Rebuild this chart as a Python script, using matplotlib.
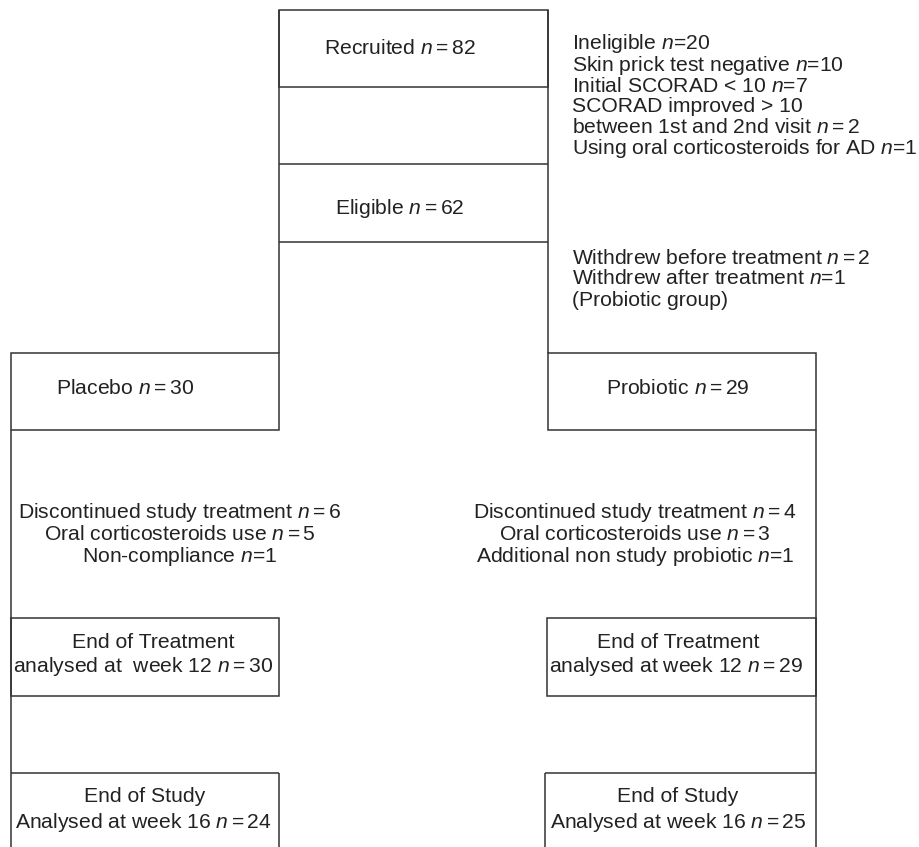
import matplotlib.pyplot as plt
from matplotlib.patches import Rectangle

plt.rcParams['font.family'] = ['Liberation Sans', 'DejaVu Sans']
plt.rcParams['mathtext.fontset'] = 'custom'
plt.rcParams['mathtext.rm'] = 'Liberation Sans'
plt.rcParams['mathtext.it'] = 'Liberation Sans:italic'

# flow counts
recruited = 82
eligible = 62
arms = ["Placebo", "Probiotic"]
arm_n = [30, 29]
week12_n = [30, 29]
week16_n = [24, 25]
discontinued_n = [6, 4]
steroid_n = [5, 3]
other_reason = ["Non-compliance", "Additional non study probiotic"]
other_n = [1, 1]

ineligible_lines = [
    "Ineligible $n$=20",
    "Skin prick test negative $n$=10",
    "Initial SCORAD < 10 $n$=7",
    "SCORAD improved > 10",
    "between 1st and 2nd visit $n=2$",
    "Using oral corticosteroids for AD $n$=1",
]
withdrew_lines = [
    "Withdrew before treatment $n=2$",
    "Withdrew after treatment $n$=1",
    "(Probiotic group)",
]

ink = '#333333'
txt = '#222222'
fs = 15.2

fig = plt.figure(figsize=(9.2, 8.47), dpi=100)
ax = fig.add_axes([0, 0, 1, 1])
ax.set_xlim(0, 920)
ax.set_ylim(847, 0)
ax.axis('off')


def rect(x0, y0, x1, y1):
    ax.add_patch(Rectangle((x0, y0), x1 - x0, y1 - y0, fill=False,
                           edgecolor=ink, lw=1.1))


def line(xs, ys):
    ax.plot(xs, ys, color=ink, lw=1.1, solid_capstyle='butt')


def label(x, y, s, ha='center'):
    ax.text(x, y, s, ha=ha, va='center', fontsize=fs, color=txt)


# central column
rect(279, 10, 548, 87)
line([279, 548], [164, 164])
line([279, 548], [242, 242])
line([279, 279], [10, 353])
line([548, 548], [10, 353])
label(400, 49, f"Recruited $n={recruited}$")
label(400, 209, f"Eligible $n={eligible}$")

# side notes, first line nudged up a touch so it clears the next one
ys = [43.5] + [45 + i * 20.6 for i in range(1, len(ineligible_lines))]
for y, s in zip(ys, ineligible_lines):
    label(572, y, s, ha='left')
for i, s in enumerate(withdrew_lines):
    label(572, 258 + i * 21, s, ha='left')

# arms
lefts = [11, 548]
rights = [279, 816]
name_x = [125, 678]
note_x = [180, 635]
box_x = [145, 678]
for k in range(2):
    x0, x1, cx = lefts[k], rights[k], box_x[k]
    rect(x0, 353, x1, 430)
    label(name_x[k], 388, f"{arms[k]} $n={arm_n[k]}$")

    trunk = x0 if k == 0 else x1
    line([trunk, trunk], [430, 847])

    label(note_x[k], 513, f"Discontinued study treatment $n={discontinued_n[k]}$")
    label(note_x[k], 535, f"Oral corticosteroids use $n={steroid_n[k]}$")
    label(note_x[k], 557, f"{other_reason[k]} $n$={other_n[k]}")

    ex0 = x0 if k == 0 else 547
    rect(ex0, 618, x1, 696)
    wk = "analysed at  week 12" if k == 0 else "analysed at week 12"
    label(cx + 8 if k == 0 else cx, 642, "End of Treatment")
    label(cx - 2, 667, f"{wk} $n={week12_n[k]}$")

    sx0 = x0 if k == 0 else 545
    line([sx0, x1], [773, 773])
    side = x1 if k == 0 else sx0
    line([side, side], [773, 847])
    label(cx, 797, "End of Study")
    label(cx - 2 if k == 0 else cx, 822, f"Analysed at week 16 $n={week16_n[k]}$")

fig.savefig('out.png', dpi=100)
